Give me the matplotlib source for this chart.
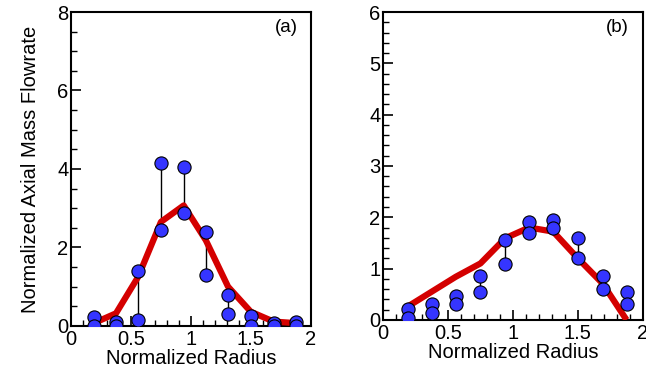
import numpy as np
import matplotlib.pyplot as plt
from matplotlib.ticker import MultipleLocator

plt.rcParams['font.family'] = ['Liberation Sans', 'DejaVu Sans']

radius = np.array([0.19, 0.375, 0.56, 0.75, 0.94, 1.125, 1.31, 1.5, 1.69, 1.875])

# (a) measured pairs and model
a_hi = np.array([0.22, 0.11, 1.40, 4.14, 4.04, 2.39, 0.79, 0.24, 0.07, 0.11])
a_lo = np.array([0.00, 0.00, 0.15, 2.44, 2.88, 1.29, 0.30, 0.00, 0.00, 0.00])
a_model = np.array([0.07, 0.32, 1.25, 2.65, 3.07, 2.18, 1.00, 0.36, 0.11, 0.07])

# (b) measured pairs and model
b_hi = np.array([0.21, 0.31, 0.47, 0.86, 1.56, 1.90, 1.95, 1.59, 0.86, 0.55])
b_lo = np.array([0.03, 0.14, 0.31, 0.55, 1.09, 1.69, 1.79, 1.20, 0.60, 0.31])
b_model = np.array([0.26, 0.55, 0.84, 1.10, 1.59, 1.80, 1.72, 1.20, 0.71, 0.00])

FS = 14.5

fig = plt.figure(figsize=(6.46, 3.75), dpi=100)
ax1 = fig.add_axes([0.110, 0.131, 0.371, 0.837])
ax2 = fig.add_axes([0.593, 0.147, 0.402, 0.821])


def draw(ax, hi, lo, model, ymax, yminor, tag):
    ax.vlines(radius, lo, hi, color='black', lw=1, zorder=2)
    ax.plot(radius, model, color='#d40000', lw=4.5, solid_capstyle='butt', zorder=3)
    ax.plot(radius, hi, 'o', ms=9.5, mfc='#3535ff', mec='black', mew=0.8, zorder=4)
    ax.plot(radius, lo, 'o', ms=9.5, mfc='#3535ff', mec='black', mew=0.8, zorder=4)
    ax.set_xlim(0, 2)
    ax.set_ylim(0, ymax)
    ax.xaxis.set_minor_locator(MultipleLocator(0.1))
    ax.yaxis.set_minor_locator(MultipleLocator(yminor))
    ax.set_xticks([0, 0.5, 1, 1.5, 2], ['0', '0.5', '1', '1.5', '2'])
    ax.tick_params(which='both', direction='in', top=False, right=False,
                   labelsize=FS)
    ax.tick_params(axis='x', pad=3)
    ax.tick_params(axis='y', pad=2)
    ax.tick_params(which='major', length=7, width=1.2)
    ax.tick_params(which='minor', length=4, width=1)
    for s in ax.spines.values():
        s.set_linewidth(1.5)
    ax.set_xlabel('Normalized Radius', fontsize=FS, labelpad=0)
    ax.text(0.945, 0.95, tag, transform=ax.transAxes, ha='right', va='center',
            fontsize=FS - 1)


draw(ax1, a_hi, a_lo, a_model, 8, 0.5, '(a)')
ax1.set_yticks([0, 2, 4, 6, 8])
ax1.set_ylabel('Normalized Axial Mass Flowrate', fontsize=FS, labelpad=12)

draw(ax2, b_hi, b_lo, b_model, 6, 0.2, '(b)')
ax2.set_yticks([0, 1, 2, 3, 4, 5, 6])

fig.savefig('out.png', dpi=100)
